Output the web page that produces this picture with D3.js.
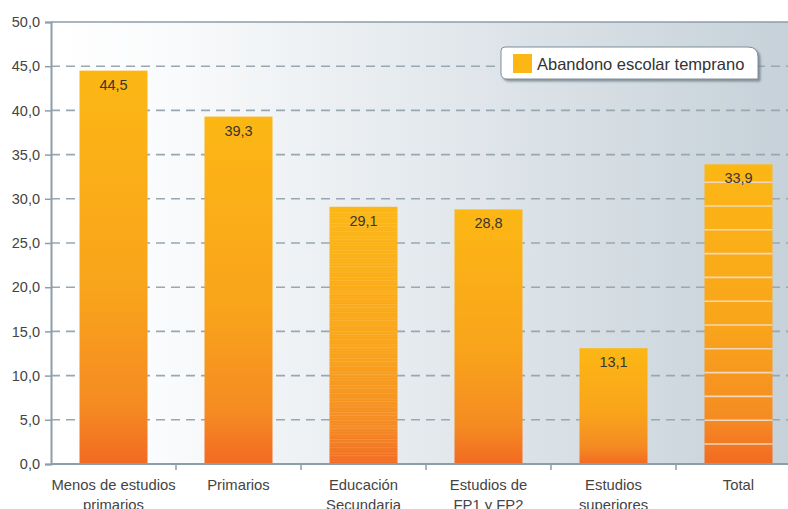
<!DOCTYPE html>
<html>
<head>
<meta charset="utf-8">
<script src="https://cdn.jsdelivr.net/npm/d3@7"></script>
<style>
  body { margin: 0; background: #fff; }
  text { font-family: "Liberation Sans", Arial, sans-serif; }
</style>
</head>
<body>
<div id="chart"></div>
<script>
// Data
const categories = [
    ['Menos de estudios', 'primarios'],
    ['Primarios'],
    ['Educación', 'Secundaria'],
    ['Estudios de', 'FP1 y FP2'],
    ['Estudios', 'superiores'],
    ['Total']
];
const values = [44.5, 39.3, 29.1, 28.8, 13.1, 33.9];
const valueLabels = ['44,5', '39,3', '29,1', '28,8', '13,1', '33,9'];
const yTicks = [0, 5, 10, 15, 20, 25, 30, 35, 40, 45, 50];
const seriesName = 'Abandono escolar temprano';

const width = 788;
const height = 509;
const margin = { top: 22, left: 51, bottom: 45 };

const svg = d3.select('#chart')
    .append('svg')
    .attr('width', width)
    .attr('height', height);

const defs = svg.append('defs');

// background gradient (white to grey-blue)
const bg = defs.append('linearGradient')
    .attr('id', 'bgGrad')
    .attr('x1', 0).attr('x2', 1).attr('y1', 0).attr('y2', 0);
bg.append('stop').attr('offset', '0%').attr('stop-color', '#ffffff');
bg.append('stop').attr('offset', '15%').attr('stop-color', '#fafbfc');
bg.append('stop').attr('offset', '100%').attr('stop-color', '#c6d1d9');

// bar gradient (yellow top, orange bottom)
const barGrad = defs.append('linearGradient')
    .attr('id', 'barGrad')
    .attr('x1', 0).attr('x2', 0).attr('y1', 0).attr('y2', 1);
barGrad.append('stop').attr('offset', '0%').attr('stop-color', '#fcb714');
barGrad.append('stop').attr('offset', '55%').attr('stop-color', '#f9a41b');
barGrad.append('stop').attr('offset', '85%').attr('stop-color', '#f58b22');
barGrad.append('stop').attr('offset', '100%').attr('stop-color', '#f26a22');

// drop shadow for legend
const shadow = defs.append('filter').attr('id', 'shadow')
    .attr('x', '-10%').attr('y', '-20%').attr('width', '130%').attr('height', '160%');
shadow.append('feDropShadow')
    .attr('dx', 2).attr('dy', 2).attr('stdDeviation', 1)
    .attr('flood-color', '#5d6e79').attr('flood-opacity', 0.7);

// Scales
const y = d3.scaleLinear()
    .domain([0, 50])
    .range([height - margin.bottom, margin.top]);

const bandW = 125;
const x = d3.scaleBand()
    .domain(d3.range(categories.length))
    .range([margin.left, margin.left + bandW * categories.length])
    .paddingInner(0.456)
    .paddingOuter(0.228);

// Plot background
svg.append('rect')
    .attr('x', margin.left)
    .attr('y', y(50))
    .attr('width', width - margin.left)
    .attr('height', y(0) - y(50))
    .attr('fill', 'url(#bgGrad)');

// Grid lines
svg.append('g')
    .selectAll('line')
    .data(yTicks.filter(d => d > 0 && d < 50))
    .enter()
    .append('line')
    .attr('x1', margin.left)
    .attr('x2', width)
    .attr('y1', d => y(d))
    .attr('y2', d => y(d))
    .attr('stroke', '#98a8b2')
    .attr('stroke-width', 1.6)
    .attr('stroke-dasharray', '9,6');

// top line
svg.append('line')
    .attr('x1', margin.left).attr('x2', width)
    .attr('y1', y(50)).attr('y2', y(50))
    .attr('stroke', '#8c9ea9').attr('stroke-width', 1.5);

// Bars
const bars = svg.append('g');
bars.selectAll('rect')
    .data(values)
    .enter()
    .append('rect')
    .attr('x', (d, i) => x(i))
    .attr('y', d => y(d))
    .attr('width', x.bandwidth())
    .attr('height', d => y(0) - y(d))
    .attr('fill', 'url(#barGrad)');

// faint streaks on "Educación Secundaria"
const streakIdx = 2;
const streakYs = d3.range(y(values[streakIdx]) + 6, y(0), 2.7);
bars.append('g')
    .selectAll('line')
    .data(streakYs)
    .enter()
    .append('line')
    .attr('x1', x(streakIdx))
    .attr('x2', x(streakIdx) + x.bandwidth())
    .attr('y1', d => d)
    .attr('y2', d => d)
    .attr('stroke', '#fde2b0')
    .attr('stroke-opacity', (d, i) => [0.35, 0.15, 0.25, 0.1, 0.3][i % 5])
    .attr('stroke-width', 0.6);

// segment lines on "Total"
const totalIdx = 5;
const segStep = 23.8;
const segYs = d3.range(y(0) - 20, y(values[totalIdx]) + 10, -segStep);
bars.append('g')
    .selectAll('line')
    .data(segYs)
    .enter()
    .append('line')
    .attr('x1', x(totalIdx))
    .attr('x2', x(totalIdx) + x.bandwidth())
    .attr('y1', d => d)
    .attr('y2', d => d)
    .attr('stroke', '#efd8bd')
    .attr('stroke-width', 1.6);

// Value labels
svg.append('g')
    .selectAll('text')
    .data(values)
    .enter()
    .append('text')
    .attr('x', (d, i) => x(i) + x.bandwidth() / 2)
    .attr('y', d => y(d) + 19)
    .attr('text-anchor', 'middle')
    .attr('font-size', 14.5)
    .attr('fill', '#3a3530')
    .text((d, i) => valueLabels[i]);

// Y axis
const yAxis = svg.append('g')
    .attr('transform', `translate(${margin.left},0)`)
    .call(d3.axisLeft(y).tickValues(yTicks).tickFormat(d => d3.format('.1f')(d).replace('.', ',')).tickSize(6).tickPadding(5));
yAxis.select('.domain').attr('stroke', '#8c9ea9').attr('stroke-width', 2);
yAxis.selectAll('.tick line').attr('stroke', '#8c9ea9').attr('stroke-width', 1.5);
yAxis.selectAll('.tick text')
    .attr('font-size', 14.5)
    .attr('fill', '#444')
    .attr('font-family', '"Liberation Sans", Arial, sans-serif');

// X axis
const xAxisG = svg.append('g');
xAxisG.append('line')
    .attr('x1', margin.left).attr('x2', width)
    .attr('y1', y(0)).attr('y2', y(0))
    .attr('stroke', '#8c9ea9').attr('stroke-width', 2);
xAxisG.selectAll('.sep')
    .data(d3.range(1, categories.length))
    .enter()
    .append('line')
    .attr('x1', i => margin.left + i * bandW)
    .attr('x2', i => margin.left + i * bandW)
    .attr('y1', y(0))
    .attr('y2', y(0) + 6)
    .attr('stroke', '#8c9ea9')
    .attr('stroke-width', 1.5);

const catLabels = xAxisG.selectAll('.cat')
    .data(categories)
    .enter()
    .append('text')
    .attr('text-anchor', 'middle')
    .attr('font-size', 14.8)
    .attr('fill', '#444');
catLabels.each(function (lines, i) {
    const t = d3.select(this);
    lines.forEach((ln, j) => {
        t.append('tspan')
            .attr('x', x(i) + x.bandwidth() / 2)
            .attr('y', y(0) + 26 + j * 20)
            .text(ln);
    });
});

// Legend
const legend = svg.append('g').attr('transform', 'translate(501,47)');
legend.append('path')
    .attr('d', 'M4,0 H247 Q257,0 257,10 V32 H6 Q0,32 0,26 V4 Q0,0 4,0 Z')
    .attr('fill', '#fff')
    .attr('stroke', '#7d8f9a')
    .attr('stroke-width', 1)
    .attr('filter', 'url(#shadow)');
legend.append('rect')
    .attr('x', 12).attr('y', 7)
    .attr('width', 19).attr('height', 19)
    .attr('fill', '#fcb615');
legend.append('text')
    .attr('x', 36).attr('y', 23)
    .attr('font-size', 16.5)
    .attr('fill', '#333')
    .text(seriesName);
</script>
</body>
</html>
